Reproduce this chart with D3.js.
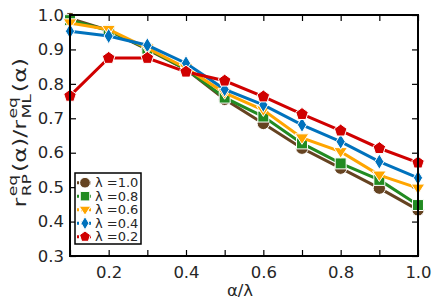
<!DOCTYPE html>
<html>
<head>
<meta charset="utf-8">
<script src="https://cdn.jsdelivr.net/npm/d3@7"></script>
<style>
  body { margin: 0; background: #fff; }
  text { font-family: "DejaVu Sans", sans-serif; fill: #262626; }
</style>
</head>
<body>
<script>
// data
var alphas = [0.1, 0.2, 0.3, 0.4, 0.5, 0.6, 0.7, 0.8, 0.9, 1.0];
var lam10 = [0.990, 0.955, 0.900, 0.842, 0.755, 0.685, 0.613, 0.555, 0.497, 0.434];
var lam08 = [0.985, 0.955, 0.902, 0.843, 0.760, 0.705, 0.627, 0.569, 0.521, 0.448];
var lam06 = [0.977, 0.958, 0.904, 0.846, 0.774, 0.724, 0.643, 0.603, 0.535, 0.497];
var lam04 = [0.953, 0.939, 0.912, 0.860, 0.784, 0.739, 0.681, 0.632, 0.574, 0.527];
var lam02 = [0.765, 0.875, 0.875, 0.835, 0.809, 0.763, 0.712, 0.664, 0.613, 0.571];
var seriesNames = ["λ =1.0", "λ =0.8", "λ =0.6", "λ =0.4", "λ =0.2"];
var xTicks = [0.2, 0.4, 0.6, 0.8, 1.0];
var yTicks = [0.3, 0.4, 0.5, 0.6, 0.7, 0.8, 0.9, 1.0];

var colors = ["#654321", "#228b22", "#ffa500", "#0072bd", "#d00000"];

// custom marker shapes
var markCircle = { draw: function(c, s) { var r = Math.sqrt(s / Math.PI); c.moveTo(r, 0); c.arc(0, 0, r, 0, 2 * Math.PI); } };
var markSquare = { draw: function(c, s) { var h = Math.sqrt(s) / 2; c.rect(-h, -h, 2 * h, 2 * h); } };
var markTriDown = { draw: function(c, s) {
    var r = Math.sqrt(s) * 0.62;
    c.moveTo(-r, -r * 0.6); c.lineTo(r, -r * 0.6); c.lineTo(0, r * 0.95); c.closePath(); } };
var markDiamond = { draw: function(c, s) {
    var h = Math.sqrt(s) * 0.7, w = h * 0.6;
    c.moveTo(0, -h); c.lineTo(w, 0); c.lineTo(0, h); c.lineTo(-w, 0); c.closePath(); } };
var markPent = { draw: function(c, s) {
    var r = Math.sqrt(s) * 0.6;
    for (var k = 0; k < 5; k++) {
        var a = -Math.PI / 2 + k * 2 * Math.PI / 5;
        if (k === 0) c.moveTo(r * Math.cos(a), r * Math.sin(a)); else c.lineTo(r * Math.cos(a), r * Math.sin(a));
    }
    c.closePath(); } };
var shapes = [markCircle, markSquare, markTriDown, markDiamond, markPent];
var allSeries = [lam10, lam08, lam06, lam04, lam02];

var margin = {top: 15, right: 18, bottom: 49, left: 70},
    width = 436 - margin.left - margin.right,
    height = 305 - margin.top - margin.bottom;

var svg = d3.select("body").append("svg")
    .attr("width", 436)
    .attr("height", 305);

var g = svg.append("g")
    .attr("transform", "translate(" + margin.left + "," + margin.top + ")");

var x = d3.scaleLinear().domain([0.1, 1.0]).range([0, width]);
var y = d3.scaleLinear().domain([0.3, 1.0]).range([height, 0]);

var allTicks = d3.range(1, 11).map(function(d) { return d / 10; });

// axes with inward ticks
var xb = g.append("g").attr("transform", "translate(0," + height + ")")
    .call(d3.axisBottom(x).tickValues(allTicks).tickSize(-6).tickPadding(10)
        .tickFormat(function(d) { return xTicks.some(function(t) { return Math.abs(t - d) < 1e-6; }) ? d3.format(".1f")(d) : ""; }));
var xt = g.append("g")
    .call(d3.axisTop(x).tickValues(allTicks).tickSize(-6).tickFormat(""));
var yl = g.append("g")
    .call(d3.axisLeft(y).tickValues(yTicks).tickSize(-6).tickPadding(6).tickFormat(d3.format(".1f")));
var yr = g.append("g").attr("transform", "translate(" + width + ",0)")
    .call(d3.axisRight(y).tickValues(yTicks).tickSize(-6).tickFormat(""));

[xb, xt, yl, yr].forEach(function(a) {
    a.select(".domain").remove();
    a.selectAll(".tick line").attr("stroke", "#000").attr("stroke-width", 1.2);
    a.selectAll("text").style("font-size", "16.5px").attr("fill", "#262626");
});
xb.selectAll("text").attr("dy", "0.71em");

// lines and markers, lambda=1.0 first
var line = d3.line()
    .x(function(d, i) { return x(alphas[i]); })
    .y(function(d) { return y(d); });

allSeries.forEach(function(vals, si) {
    g.append("path")
        .datum(vals)
        .attr("fill", "none")
        .attr("stroke", colors[si])
        .attr("stroke-width", 3)
        .attr("d", line);
    g.selectAll(".m" + si)
        .data(vals)
        .enter()
        .append("path")
            .attr("class", "m" + si)
            .attr("transform", function(d, i) { return "translate(" + x(alphas[i]) + "," + y(d) + ")"; })
            .attr("d", d3.symbol().type(shapes[si]).size(120))
            .attr("fill", colors[si])
            .attr("stroke", "#fff")
            .attr("stroke-width", 1);
});

// frame
g.append("rect")
    .attr("width", width).attr("height", height)
    .attr("fill", "none").attr("stroke", "#000").attr("stroke-width", 2);

// legend
var leg = svg.append("g").attr("transform", "translate(75,173)");
leg.append("rect")
    .attr("width", 66).attr("height", 71)
    .attr("fill", "#fff").attr("stroke", "#000").attr("stroke-width", 1.5);
seriesNames.forEach(function(name, i) {
    var ly = 9.7 + i * 13.5;
    leg.append("line")
        .attr("x1", 2).attr("x2", 18).attr("y1", ly).attr("y2", ly)
        .attr("stroke", colors[i]).attr("stroke-width", 3).attr("stroke-dasharray", "2,2");
    leg.append("path")
        .attr("transform", "translate(10," + ly + ")")
        .attr("d", d3.symbol().type(shapes[i]).size(90))
        .attr("fill", colors[i]).attr("stroke", "#fff").attr("stroke-width", 1);
    leg.append("text")
        .attr("x", 20).attr("y", ly).attr("dy", "0.36em")
        .style("font-size", "13px")
        .text(name);
});

// x label
svg.append("text")
    .attr("x", 240).attr("y", 296)
    .attr("text-anchor", "middle")
    .style("font-size", "16.5px")
    .text("α/λ");

// y label with super/subscripts, stretched to the span seen in the picture
var yg = svg.append("g").attr("transform", "translate(25.5,132) rotate(-90)");
var inner = yg.append("g");
var parts = [
    {t: "r", sup: "eq", sub: "RP"},
    {t: "(α)/r", sup: "eq", sub: "ML"},
    {t: "(α)"}
];
var cx = 0;
parts.forEach(function(p) {
    var m = inner.append("text").attr("x", cx).attr("y", 0).style("font-size", "18px").text(p.t);
    cx += m.node().getComputedTextLength() + 1;
    if (p.sup) {
        var s1 = inner.append("text").attr("x", cx).attr("y", -9).style("font-size", "13px").text(p.sup);
        var s2 = inner.append("text").attr("x", cx).attr("y", 5).style("font-size", "13px").text(p.sub);
        cx += Math.max(s1.node().getComputedTextLength(), s2.node().getComputedTextLength()) + 1.5;
    }
});
var sx = Math.min(151 / cx, 1.35);
inner.attr("transform", "scale(" + sx + ",1) translate(" + (-cx / 2) + ",0)");
</script>
</body>
</html>
